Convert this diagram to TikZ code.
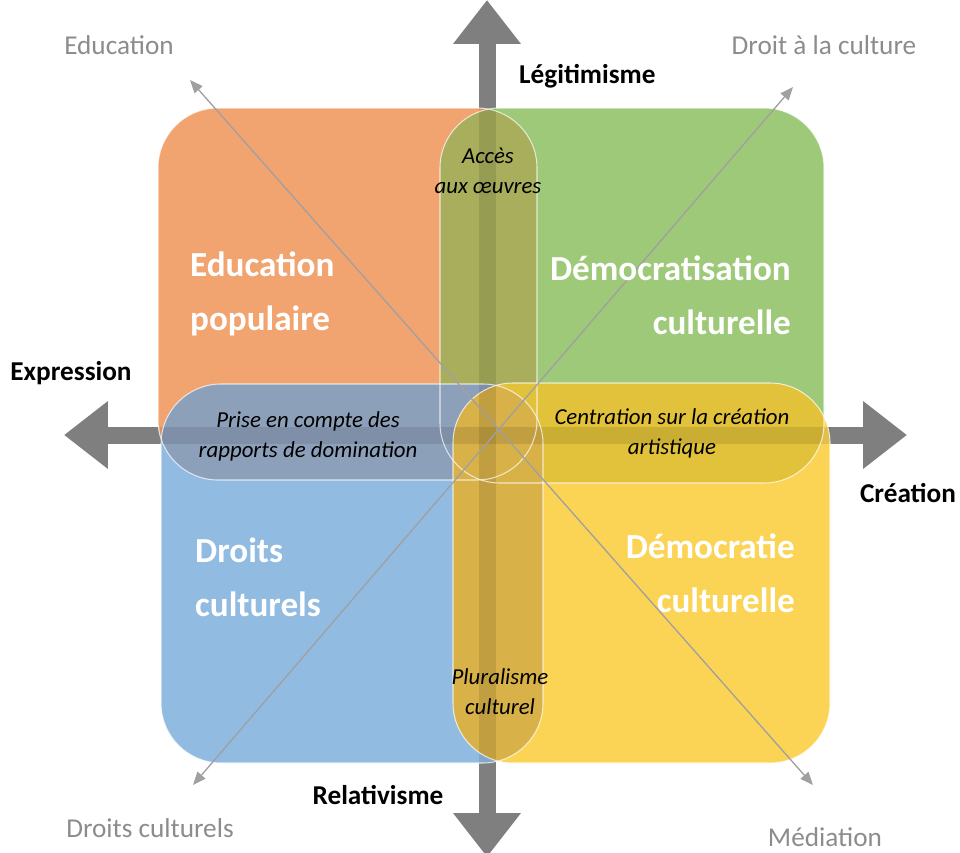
\documentclass[tikz,border=0pt]{standalone}
\usepackage{fontspec}
\setmainfont{Carlito}
\usetikzlibrary{arrows.meta}

\definecolor{quadorange}{HTML}{F1A470}
\definecolor{quadgreen}{HTML}{9DC979}
\definecolor{quadblue}{HTML}{92BBE2}
\definecolor{quadyellow}{HTML}{FCD455}
\definecolor{lensog}{HTML}{A8AE5C}
\definecolor{lensob}{HTML}{8DA0BA}
\definecolor{lensgy}{HTML}{E2C23A}
\definecolor{lensby}{HTML}{D8B248}
\definecolor{axisgray}{HTML}{7F7F7F}
\definecolor{diaggray}{HTML}{A0A0A0}
\definecolor{labelgray}{HTML}{8C8C8C}

\tikzset{
  quad/.style={rounded corners=1.2cm},
  rim/.style={quad, draw=white, draw opacity=0.7, line width=0.6pt},
  axis/.style={draw=axisgray, line width=0.34cm,
    {Triangle[length=0.88cm,width=1.3cm]}-{Triangle[length=0.88cm,width=1.3cm]}},
  shade/.style={draw=black, draw opacity=0.1, line width=0.34cm},
  diag/.style={draw=diaggray, line width=0.75pt,
    {Triangle[length=0.26cm,width=0.21cm]}-{Triangle[length=0.26cm,width=0.21cm]}},
  axlabel/.style={font=\bfseries\fontsize{15.5}{18}\selectfont},
  dlabel/.style={text=labelgray, font=\fontsize{15.5}{18}\selectfont},
  qlabel/.style={text=white, font=\bfseries\fontsize{20}{30.5}\selectfont},
  lens/.style={align=center, font=\itshape\fontsize{13}{17}\selectfont}
}

\begin{document}
\begin{tikzpicture}[x=0.02cm, y=-0.02cm]
	\useasboundingbox (0, 0) rectangle (960, 852);

	% axes
	\coordinate (north) at (487, 0);
	\coordinate (south) at (487, 857);
	\coordinate (west) at (64, 435);
	\coordinate (east) at (907, 435);
	\draw[axis] (south) -- (north);
	\draw[axis] (west) -- (east);

	% quadrants
	\fill[quadorange, quad] (158, 108) rectangle (537, 480);
	\fill[quadgreen, quad] (440, 108) rectangle (824, 483);
	\fill[quadblue, quad] (161, 384) rectangle (543, 763);
	\fill[quadyellow, quad] (453, 383) rectangle (830, 763);

	% overlaps
	\begin{scope}
		\clip[quad] (158, 108) rectangle (537, 480);
		\fill[lensog, quad] (440, 108) rectangle (824, 483);
	\end{scope}
	\begin{scope}
		\clip[quad] (158, 108) rectangle (537, 480);
		\fill[lensob, quad] (161, 384) rectangle (543, 763);
	\end{scope}
	\begin{scope}
		\clip[quad] (440, 108) rectangle (824, 483);
		\fill[lensgy, quad] (453, 383) rectangle (830, 763);
	\end{scope}
	\begin{scope}
		\clip[quad] (161, 384) rectangle (543, 763);
		\fill[lensby, quad] (453, 383) rectangle (830, 763);
	\end{scope}

	% axis shafts seen through
	\coordinate (shadetop) at (487, 108);
	\coordinate (shadebot) at (487, 763);
	\coordinate (shadeleft) at (160, 435);
	\coordinate (shaderight) at (830, 435);
	\draw[shade] (shadetop) -- (shadebot);
	\draw[shade] (shadeleft) -- (shaderight);

	\draw[rim] (158, 108) rectangle (537, 480);
	\draw[rim] (440, 108) rectangle (824, 483);
	\draw[rim] (161, 384) rectangle (543, 763);
	\draw[rim] (453, 383) rectangle (830, 763);

	% diagonals
	\coordinate (educ) at (190, 80);
	\coordinate (medi) at (813, 785);
	\coordinate (drcult) at (193, 785);
	\coordinate (drala) at (793, 87);
	\draw[diag] (educ) -- (medi);
	\draw[diag] (drcult) -- (drala);

	% labels
	\node[dlabel] (leduc) at (119, 45) {Education};
	\node[dlabel] (ldrala) at (824, 45) {Droit à la culture};
	\node[dlabel] (ldrcult) at (150, 828) {Droits culturels};
	\node[dlabel] (lmedi) at (825, 837) {Médiation};

	\node[axlabel, anchor=west] (legit) at (513, 76) {Légitimisme};
	\node[axlabel] (expr) at (71, 373) {Expression};
	\node[axlabel] (crea) at (908, 493) {Création};
	\node[axlabel] (relat) at (378, 795) {Relativisme};

	\node[qlabel, anchor=west, align=left] (edpop) at (184, 294) {Education\\populaire};
	\node[qlabel, anchor=east, align=right] (democ) at (797, 295) {Démocratisation\\culturelle};
	\node[qlabel, anchor=west, align=left] (droits) at (189, 577) {Droits\\culturels};
	\node[qlabel, anchor=east, align=right] (democr) at (801, 573) {Démocratie\\culturelle};

	\node[lens] (acces) at (488, 171) {Accès\\aux œuvres};
	\node[lens] (prise) at (308, 436) {Prise en compte des\\rapports de domination};
	\node[lens] (centr) at (672, 433) {Centration sur la création\\artistique};
	\node[lens] (plur) at (500, 692) {Pluralisme\\culturel};
\end{tikzpicture}
\end{document}
